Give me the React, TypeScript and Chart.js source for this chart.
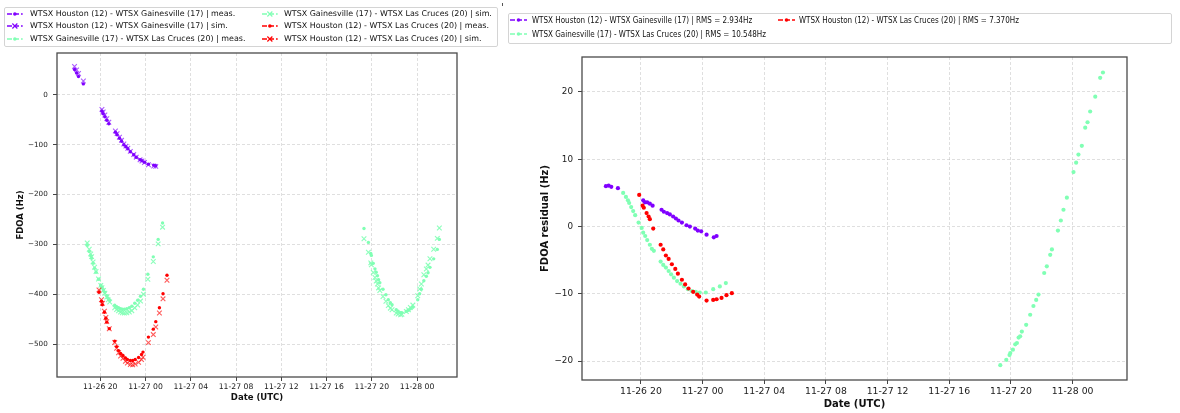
import React, { useEffect, useRef } from "react";
import { Chart, registerables } from "chart.js";
Chart.register(...registerables);

// ---------- DATA (hours since 11-26 00:00 UTC) ----------
const purpleTimes = [17.73, 17.91, 18.08, 18.51, 20.15, 20.26, 20.41, 20.58, 20.76, 21.34, 21.49, 21.70, 21.88, 22.09, 22.27, 22.44, 22.66, 22.96, 23.18, 23.52, 23.69, 23.91, 24.26, 24.73, 24.91];
const purpleMeas = [51, 44, 37, 22, -33, -38, -44, -51, -58, -75, -80, -87, -93, -100, -104, -108, -114, -120, -125, -130, -132, -135, -139, -141, -142];
const purpleSim = [57, 50.1, 42.9, 27.7, -29.1, -34.4, -40.4, -47.6, -54.9, -72.5, -77.8, -85.0, -91.2, -98.5, -102.8, -107.1, -113.4, -119.8, -125.0, -130.3, -132.6, -135.7, -140.2, -142.6, -143.4];
const purpleResid = [6.0, 6.1, 5.9, 5.7, 3.9, 3.6, 3.6, 3.4, 3.1, 2.5, 2.2, 2.0, 1.8, 1.5, 1.2, 0.9, 0.6, 0.2, 0.0, -0.3, -0.6, -0.7, -1.2, -1.6, -1.4];

const greenTimes = [18.85, 19.03, 19.16, 19.24, 19.37, 19.50, 19.63, 19.85, 20.05, 20.15, 20.28, 20.41, 20.58, 20.71, 20.84, 21.28, 21.45, 21.62, 21.80, 21.96, 22.14, 22.35, 22.57, 22.79, 23.05, 23.31, 23.56, 23.82, 24.21, 24.69, 25.12, 25.51,
  43.31, 43.70, 43.91, 43.96, 44.13, 44.28, 44.39, 44.50, 44.60, 44.71, 44.99, 45.25, 45.46, 45.64, 45.79, 46.16, 46.33, 46.55, 46.66, 47.05, 47.24, 47.41, 47.63, 48.06, 48.23, 48.38, 48.60, 48.82, 48.97, 49.14, 49.47, 49.79, 49.97];
const greenMeas = [-302, -314, -323, -328, -338, -348, -356, -370, -382, -386, -391, -396, -403, -408, -412, -422, -425, -427, -429, -430, -430, -429, -427, -424, -418, -412, -404, -390, -360, -325, -290, -257,
  -268, -296, -318, -322, -338, -349, -356, -363, -371, -377, -390, -401, -411, -417, -421, -431, -434, -437, -437, -434, -432, -429, -426, -411, -399, -390, -373, -364, -357, -346, -329, -310, -290];
const greenSim = [-297, -309.6, -319.1, -324.5, -335.1, -345.7, -354.3, -369.4, -382.2, -386.9, -392.4, -398, -405.7, -411.3, -415.6, -427.2, -430.7, -433.1, -435.6, -437.1, -437.6, -437.1, -435.5, -432.9, -427.3, -421.6, -413.7, -399.8, -369.8, -334.3, -298.9, -265.4,
  -288.6, -315.8, -337.1, -340.8, -356.3, -366.5, -373.3, -379.5, -387.3, -392.6, -404.6, -414.1, -422.8, -427.9, -431.1, -437.9, -439.9, -441.2, -440.4, -434.6, -431.1, -426.5, -421.7, -402.9, -389.5, -379.3, -361, -349.3, -341.5, -328.9, -309.7, -287.9, -267.1];
const greenResid = [5.0, 4.4, 3.9, 3.5, 2.9, 2.3, 1.7, 0.6, -0.2, -0.9, -1.4, -2.0, -2.7, -3.3, -3.6, -5.2, -5.7, -6.1, -6.6, -7.1, -7.6, -8.1, -8.5, -8.9, -9.3, -9.6, -9.7, -9.8, -9.8, -9.3, -8.9, -8.4,
  -20.6, -19.8, -19.1, -18.8, -18.3, -17.5, -17.3, -16.5, -16.3, -15.6, -14.6, -13.1, -11.8, -10.9, -10.1, -6.9, -5.9, -4.2, -3.4, -0.6, 0.9, 2.5, 4.3, 8.1, 9.5, 10.7, 12.0, 14.7, 15.5, 17.1, 19.3, 22.1, 22.9];

const redTimes = [19.89, 20.11, 20.19, 20.37, 20.50, 20.58, 20.80, 21.28, 21.45, 21.62, 21.80, 22.01, 22.23, 22.40, 22.66, 22.87, 23.09, 23.39, 23.65, 23.78, 24.26, 24.69, 24.91, 25.23, 25.55, 25.90];
const redMeas = [-396, -414, -421, -436, -448, -456, -469, -494, -505, -513, -519, -523, -528, -531, -533, -533, -531, -527, -521, -516, -486, -470, -455, -427, -399, -362];
const redSim = [-391.3, -410.9, -418.2, -434, -446.5, -454.9, -469.3, -496.7, -508.4, -517.3, -523.8, -528.6, -534.3, -538, -540.9, -541.6, -540.2, -536.7, -531.1, -526.4, -497, -480.9, -465.8, -437.6, -409.2, -371.9];
const redResid = [4.7, 3.1, 2.8, 2.0, 1.5, 1.1, -0.3, -2.7, -3.4, -4.3, -4.8, -5.6, -6.3, -7.0, -7.9, -8.6, -9.2, -9.7, -10.1, -10.4, -11.0, -10.9, -10.8, -10.6, -10.2, -9.9];

const xTickHours = [20, 24, 28, 32, 36, 40, 44, 48];
const fdoaTicks = [0, -100, -200, -300, -400, -500];
const residTicks = [20, 10, 0, -10, -20];
const X_MIN = 16.18;
const X_MAX = 51.53;

const leftLabels = [
  "WTSX Houston (12) - WTSX Gainesville (17) | meas.",
  "WTSX Houston (12) - WTSX Gainesville (17) | sim.",
  "WTSX Gainesville (17) - WTSX Las Cruces (20) | meas.",
  "WTSX Gainesville (17) - WTSX Las Cruces (20) | sim.",
  "WTSX Houston (12) - WTSX Las Cruces (20) | meas.",
  "WTSX Houston (12) - WTSX Las Cruces (20) | sim.",
];
const rightLabels = [
  "WTSX Houston (12) - WTSX Gainesville (17) | RMS = 2.934Hz",
  "WTSX Gainesville (17) - WTSX Las Cruces (20) | RMS = 10.548Hz",
  "WTSX Houston (12) - WTSX Las Cruces (20) | RMS = 7.370Hz",
];

// ---------- STYLE ----------
const PURPLE = "#8000ff";
const GREEN = "#80ffb4";
const RED = "#ff0000";
const PURPLE_A = "rgba(128,0,255,0.65)";
const GREEN_A = "rgba(128,255,180,0.9)";
const RED_A = "rgba(255,0,0,0.65)";
const FONT = "DejaVu Sans";
const GRID = "rgba(176,176,176,0.5)";

const zip = (xs: number[], ys: number[]) => xs.map((x, i) => ({ x, y: ys[i] }));
const fmtHour = (h: number) => {
  const d = 26 + Math.floor(h / 24);
  const hh = h % 24;
  return `11-${d} ${String(hh).padStart(2, "0")}`;
};
const fmtNum = (v: number) => (v < 0 ? "\u2212" + Math.abs(v) : String(v));

const boxPlugin = {
  id: "box",
  afterDraw(chart: any) {
    const { ctx, chartArea: a } = chart;
    ctx.save();
    ctx.strokeStyle = "#4a4a4a";
    ctx.lineWidth = 1.3;
    ctx.strokeRect(a.left, a.top, a.right - a.left, a.bottom - a.top);
    ctx.restore();
  },
};

function makeOptions(p: any) {
  return {
    responsive: false,
    animation: false,
    events: [],
    layout: { padding: { left: 0, top: p.top, right: p.right, bottom: 0 } },
    plugins: { legend: { display: false }, tooltip: { enabled: false } },
    scales: {
      x: {
        type: "linear",
        min: X_MIN,
        max: X_MAX,
        afterBuildTicks: (s: any) => {
          s.ticks = xTickHours.map((v) => ({ value: v }));
        },
        afterFit: (s: any) => {
          s.height = p.xHeight;
        },
        ticks: {
          autoSkip: false,
          maxRotation: 0,
          minRotation: 0,
          padding: p.xPad,
          color: "#1a1a1a",
          font: { family: FONT, size: p.xTickSize },
          callback: (v: any) => fmtHour(Number(v)),
        },
        grid: { color: GRID, lineWidth: 0.8, tickLength: 4, tickColor: "#444", tickWidth: 1, tickBorderDash: [] },
        border: { display: false, dash: [3, 2] },
        title: {
          display: true,
          text: "Date (UTC)",
          color: "#111",
          font: { family: FONT, size: p.titleSize, weight: "bold" },
          padding: { top: 0, bottom: p.xTitlePad },
        },
      },
      y: {
        type: "linear",
        min: p.yMin,
        max: p.yMax,
        afterBuildTicks: (s: any) => {
          s.ticks = p.yTicks.map((v: number) => ({ value: v }));
        },
        afterFit: (s: any) => {
          s.width = p.yWidth;
        },
        ticks: {
          padding: p.yPad,
          color: "#1a1a1a",
          font: { family: FONT, size: p.yTickSize },
          callback: (v: any) => fmtNum(Number(v)),
        },
        grid: { color: GRID, lineWidth: 0.8, tickLength: 4, tickColor: "#444", tickWidth: 1, tickBorderDash: [] },
        border: { display: false, dash: [3, 2] },
        title: {
          display: true,
          text: p.yTitle,
          color: "#111",
          font: { family: FONT, size: p.titleSize, weight: "bold" },
          padding: { top: p.yTitlePad, bottom: 0 },
        },
      },
    },
  };
}

const dot = (label: string, data: any, color: string, r: number) => ({
  label,
  data,
  pointStyle: "circle",
  pointRadius: r,
  backgroundColor: color,
  borderColor: color,
  borderWidth: 0,
  showLine: false,
});
const cross = (label: string, data: any, color: string) => ({
  label,
  data,
  pointStyle: "crossRot",
  pointRadius: 3.3,
  backgroundColor: color,
  borderColor: color,
  borderWidth: 1.1,
  showLine: false,
});

function Handle({ color, marker, w }: { color: string; marker: string; w: number }) {
  const c = w / 2;
  return (
    <svg width={w} height={8} style={{ position: "absolute", left: 0, top: -4, overflow: "visible" }}>
      <line x1={0} y1={4} x2={w} y2={4} stroke={color} strokeWidth={1.3} strokeDasharray="5,2" />
      {marker === "dot" ? (
        <circle cx={c} cy={4} r={1.8} fill={color} />
      ) : (
        <g stroke={color} strokeWidth={1.1}>
          <line x1={c - 2.5} y1={1.5} x2={c + 2.5} y2={6.5} />
          <line x1={c - 2.5} y1={6.5} x2={c + 2.5} y2={1.5} />
        </g>
      )}
    </svg>
  );
}

function LegendItem(props: any) {
  const { x, tx, y, color, marker, label, size, scale, hw } = props;
  return (
    <>
      <div style={{ position: "absolute", left: x, top: y, width: hw, height: 0 }}>
        <Handle color={color} marker={marker} w={hw} />
      </div>
      <div
        style={{
          position: "absolute",
          left: tx,
          top: y - 6,
          height: 12,
          lineHeight: "12px",
          fontFamily: FONT,
          fontSize: size,
          color: "#111",
          whiteSpace: "nowrap",
          transform: `scaleX(${scale})`,
          transformOrigin: "left center",
        }}
      >
        {label}
      </div>
    </>
  );
}

export default function App() {
  const leftRef = useRef<HTMLCanvasElement>(null);
  const rightRef = useRef<HTMLCanvasElement>(null);

  useEffect(() => {
    const left = new Chart(leftRef.current as HTMLCanvasElement, {
      type: "scatter",
      data: {
        datasets: [
          dot(leftLabels[0], zip(purpleTimes, purpleMeas), PURPLE, 1.7),
          cross(leftLabels[1], zip(purpleTimes, purpleSim), PURPLE_A),
          dot(leftLabels[2], zip(greenTimes, greenMeas), GREEN, 1.7),
          cross(leftLabels[3], zip(greenTimes, greenSim), GREEN_A),
          dot(leftLabels[4], zip(redTimes, redMeas), RED, 1.7),
          cross(leftLabels[5], zip(redTimes, redSim), RED_A),
        ].map((d, i) => ({ ...d, order: 6 - i })) as any,
      },
      options: makeOptions({
        top: 53,
        right: 13,
        xHeight: 36,
        yWidth: 57,
        yMin: -566,
        yMax: 84,
        yTicks: fdoaTicks,
        yTitle: "FDOA (Hz)",
        xTickSize: 7.7,
        yTickSize: 7.2,
        titleSize: 8.5,
        xPad: 1.4,
        yPad: 5.3,
        xTitlePad: 9.9,
        yTitlePad: 15.4,
      }) as any,
      plugins: [boxPlugin],
    });
    const right = new Chart(rightRef.current as HTMLCanvasElement, {
      type: "scatter",
      data: {
        datasets: [
          dot(rightLabels[0], zip(purpleTimes, purpleResid), PURPLE, 2.1),
          dot(rightLabels[1], zip(greenTimes, greenResid), GREEN, 2.1),
          dot(rightLabels[2], zip(redTimes, redResid), RED, 2.1),
        ].map((d, i) => ({ ...d, order: 3 - i })) as any,
      },
      options: makeOptions({
        top: 57,
        right: 53,
        xHeight: 33,
        yWidth: 82,
        yMin: -22.8,
        yMax: 25.2,
        yTicks: residTicks,
        yTitle: "FDOA residual (Hz)",
        xTickSize: 9.3,
        yTickSize: 8.8,
        titleSize: 10,
        xPad: 2.1,
        yPad: 5,
        xTitlePad: 3,
        yTitlePad: 39,
      }) as any,
      plugins: [boxPlugin],
    });
    return () => {
      left.destroy();
      right.destroy();
    };
  }, []);

  const leftItems = [
    { x: 7, tx: 30, y: 14, color: PURPLE, marker: "dot", label: leftLabels[0] },
    { x: 7, tx: 30, y: 26.3, color: PURPLE, marker: "x", label: leftLabels[1] },
    { x: 7, tx: 30, y: 38.6, color: GREEN, marker: "dot", label: leftLabels[2] },
    { x: 262, tx: 284, y: 14, color: GREEN, marker: "x", label: leftLabels[3] },
    { x: 262, tx: 284, y: 26.3, color: RED, marker: "dot", label: leftLabels[4] },
    { x: 262, tx: 284, y: 38.6, color: RED, marker: "x", label: leftLabels[5] },
  ];
  const rightItems = [
    { x: 510, tx: 531.7, y: 20, color: PURPLE, marker: "dot", label: rightLabels[0] },
    { x: 510, tx: 531.7, y: 34.3, color: GREEN, marker: "dot", label: rightLabels[1] },
    { x: 778, tx: 799.3, y: 20, color: RED, marker: "dot", label: rightLabels[2] },
  ];

  return (
    <div style={{ position: "absolute", left: 0, top: 0, width: 1180, height: 413, background: "#fff", overflow: "hidden" }}>
      <canvas ref={leftRef} width={470} height={413} style={{ position: "absolute", left: 0, top: 0, width: 470, height: 413 }} />
      <canvas ref={rightRef} width={680} height={413} style={{ position: "absolute", left: 500, top: 0, width: 680, height: 413 }} />
      <div style={{ position: "absolute", left: 4, top: 7, width: 494, height: 40, border: "1px solid #d4d4d4", borderRadius: 2, background: "rgba(255,255,255,0.9)", boxSizing: "border-box" }} />
      <div style={{ position: "absolute", left: 508, top: 13, width: 664, height: 31, border: "1px solid #d4d4d4", borderRadius: 2, background: "rgba(255,255,255,0.9)", boxSizing: "border-box" }} />
      <div style={{ position: "absolute", left: 502, top: 3, width: 1, height: 3, background: "#555" }} />
      {leftItems.map((it, i) => (
        <LegendItem key={"l" + i} {...it} size={7.95} scale={1} hw={15.7} />
      ))}
      {rightItems.map((it, i) => (
        <LegendItem key={"r" + i} {...it} size={8.5} scale={0.846} hw={17} />
      ))}
    </div>
  );
}
